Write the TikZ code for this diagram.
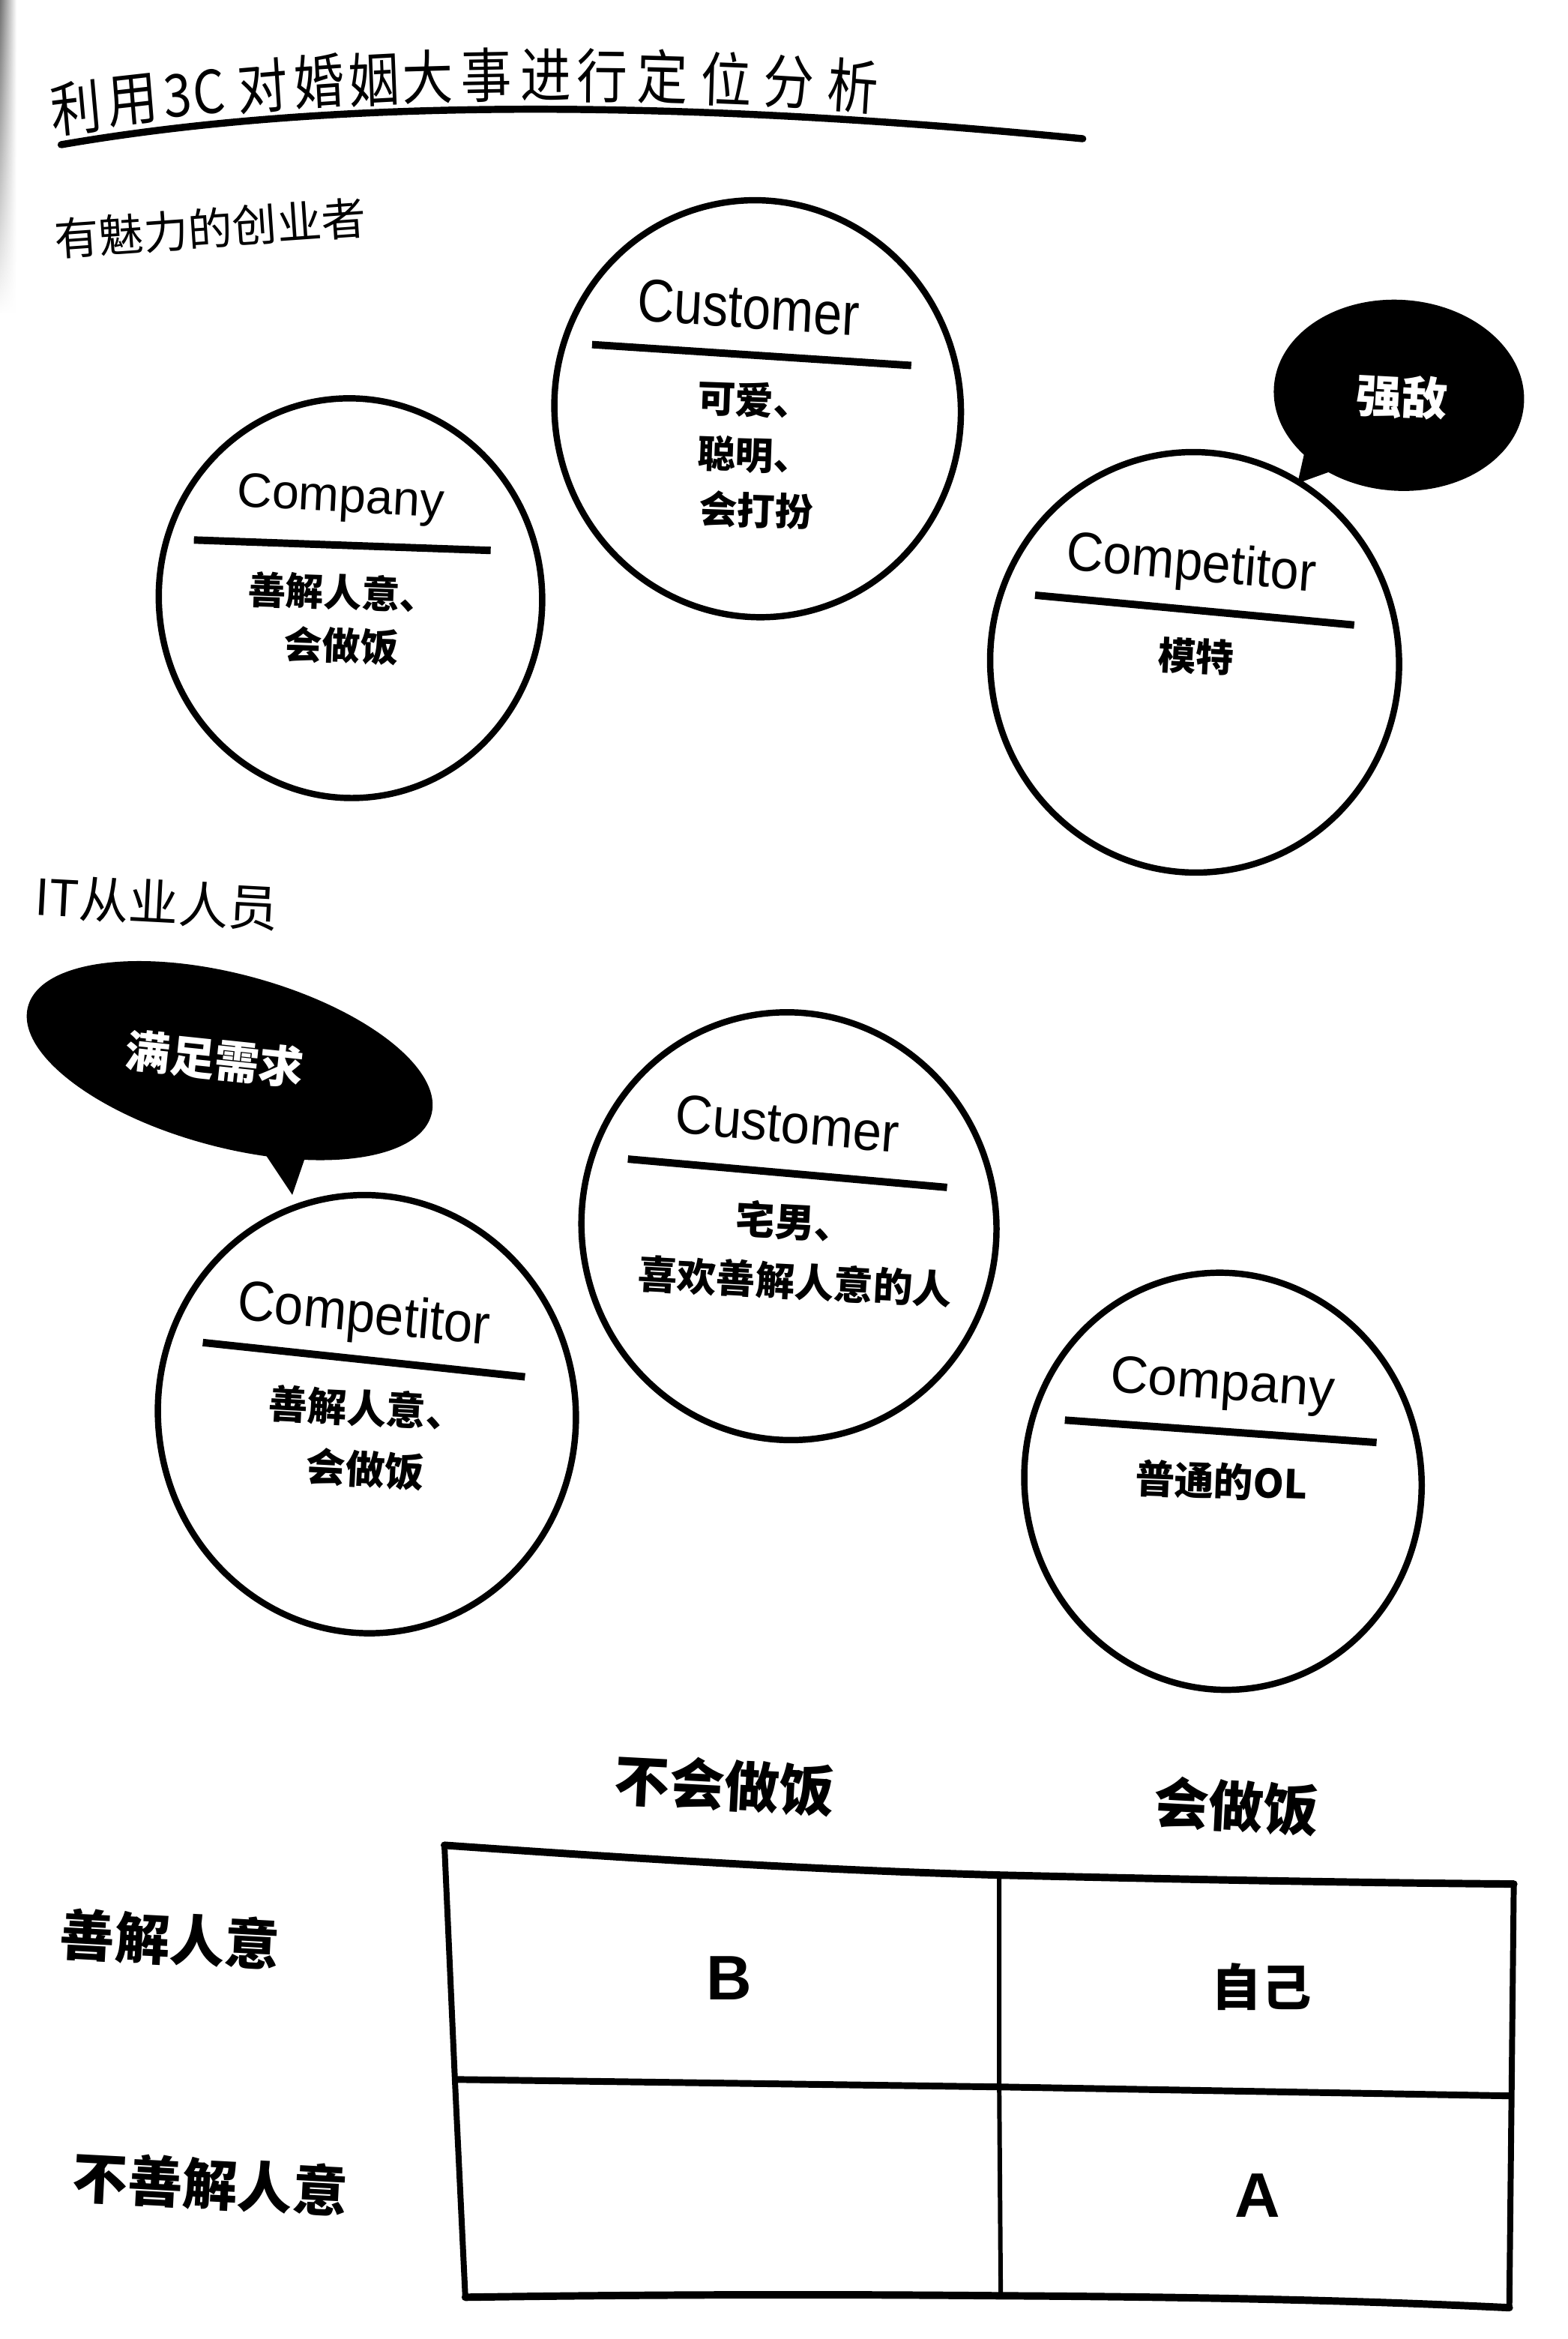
\documentclass[tikz,border=0pt]{standalone}
\usepackage{fontspec}
\setmainfont{Liberation Sans}
\newfontfamily\cjk{Noto Sans CJK SC}
\usetikzlibrary{shapes.geometric,fadings}
\tikzset{
  oval/.style={draw, ellipse, line width=0.85mm, inner sep=0pt},
  bubble/.style={fill=black, ellipse, inner sep=0pt},
  divider/.style={line width=1mm},
  titlechar/.style={font=\cjk\fontsize{22.5}{26}\selectfont, inner sep=0pt, xscale=0.86},
  sub/.style={font=\cjk\fontsize{17}{20}\selectfont, inner sep=0pt},
  eng/.style={font=\fontsize{21}{24}\selectfont, inner sep=0pt, anchor=base},
  body/.style={font=\cjk\bfseries\fontsize{14.5}{18}\selectfont, inner sep=0pt},
  bubtext/.style={text=white, font=\cjk\bfseries\fontsize{17.5}{20}\selectfont, inner sep=0pt},
  edge/.style={line width=1mm, line cap=round, line join=round},
  thinedge/.style={line width=0.8mm, line cap=round},
  inner/.style={line width=0.6mm},
  tlabel/.style={font=\cjk\bfseries\fontsize{21}{25}\selectfont, inner sep=0pt},
  cell/.style={font=\bfseries\fontsize{24}{28}\selectfont, inner sep=0pt},
  cellcjk/.style={font=\cjk\bfseries\fontsize{19}{22}\selectfont, inner sep=0pt},
}
\begin{document}
\begin{tikzpicture}[x=0.2mm, y=-0.2mm]
\useasboundingbox (0,0) rectangle (1051,1568);
\fill[white] (0,0) rectangle (1051,1568);
\shade[left color=black!55, right color=white, path fading=south] (0,0) rectangle (11,210);

% title, set along the arc of its underline
\foreach \ch/\x/\y/\r [count=\i] in {利/51/72.5/6, 用/89/67.5/5.5, 3/119/64/5, C/140/61.5/4.8,
  对/176/57.5/4.3, 婚/214/54.6/3.4, 姻/251/53/2.6, 大/287/51.4/1.4, 事/326/50.5/0.9,
  进/366/50.2/0, 行/404/50.6/-0.5, 定/444/51.6/-1.4, 位/487/53/-2, 分/529/55/-2.9, 析/572/57.4/-4.2}
  \node[titlechar, rotate=\r] (t\i) at (\x,\y) {\ch};
\draw[line width=0.95mm, line cap=round] (41,97) .. controls (220,66) and (450,66) .. (726,93);

% section 1
\node[sub, rotate=4] (s1) at (141,153) {有魅力的创业者};

% circle 1 : Company
\node[oval, minimum width=51.4mm, minimum height=53.6mm, rotate=5] (c1) at (235,401) {};
\node[eng, font=\fontsize{18.5}{22}\selectfont, rotate=-3] (c1t) at (228,343) {Company};
\draw[divider] (130,362) -- (329,369);
\node[body, rotate=-2] (c1a) at (230,397) {善解人意、};
\node[body, rotate=-2] (c1b) at (229,433) {会做饭};

% circle 2 : Customer
\node[oval, minimum width=54.4mm, minimum height=56mm, rotate=15] (c2) at (508,274) {};
\node[eng, font=\fontsize{23}{26}\selectfont, xscale=0.85, rotate=-3.5] (c2t) at (501,220) {Customer};
\draw[divider] (397,231) -- (611,245);
\node[body, rotate=-2] (c2a) at (506,268) {可爱、};
\node[body, rotate=-2] (c2b) at (506,305) {聪明、};
\node[body, rotate=-2] (c2c) at (507,342) {会打扮};

% circle 3 : Competitor
\node[oval, minimum width=54.8mm, minimum height=56.4mm, rotate=8] (c3) at (801,444) {};
\node[eng, xscale=0.93, rotate=-4.8] (c3t) at (798,389) {Competitor};
\draw[divider] (694,399) -- (908,419);
\node[body, rotate=-3] (c3a) at (802,440) {模特};

% bubble 1
\node[bubble, minimum width=33.6mm, minimum height=25.6mm, rotate=-4] (b1) at (938,265) {};
\fill (879,284) -- (870,324) -- (909,310) -- cycle;
\node[bubtext, rotate=-3] (b1t) at (940,266) {强敌};

% section 2
\node[sub, font=\cjk\fontsize{19}{22}\selectfont, rotate=-3] (s2) at (105,605) {IT从业人员};

% bubble 2
\node[bubble, minimum width=56mm, minimum height=23.2mm, rotate=-15] (b2) at (154,711) {};
\fill (170,762) -- (196,801) -- (208,766) -- cycle;
\node[bubtext, font=\cjk\bfseries\fontsize{17}{20}\selectfont, rotate=-6] (b2t) at (144,710) {满足需求};

% circle 4 : Competitor
\node[oval, minimum width=56mm, minimum height=58.8mm, rotate=8] (c4) at (246,948) {};
\node[eng, font=\fontsize{21.5}{24}\selectfont, xscale=0.92, rotate=-5.3] (c4t) at (243,893) {Competitor};
\draw[divider] (136,900) -- (352,923);
\node[body, font=\cjk\bfseries\fontsize{15}{18}\selectfont, rotate=-3] (c4a) at (246,944) {善解人意、};
\node[body, font=\cjk\bfseries\fontsize{15}{18}\selectfont, rotate=-3] (c4b) at (245,985) {会做饭};

% circle 5 : Customer
\node[oval, minimum width=55.6mm, minimum height=57.4mm, rotate=10] (c5) at (529,822) {};
\node[eng, xscale=0.94, rotate=-4.8] (c5t) at (527,766) {Customer};
\draw[divider] (421,777) -- (635,796);
\node[body, font=\cjk\bfseries\fontsize{15}{18}\selectfont, rotate=-3] (c5a) at (533,819) {宅男、};
\node[body, font=\cjk\bfseries\fontsize{15}{18}\selectfont, rotate=-3] (c5b) at (533,859) {喜欢善解人意的人};

% circle 6 : Company
\node[oval, minimum width=53.2mm, minimum height=56mm, rotate=10] (c6) at (820,993) {};
\node[eng, font=\fontsize{20}{24}\selectfont, rotate=-3.9] (c6t) at (819,938) {Company};
\draw[divider] (714,952) -- (923,967);
\node[body, font=\cjk\bfseries\fontsize{15}{18}\selectfont, rotate=-2] (c6a) at (819,993) {普通的OL};

% table labels
\node[tlabel, rotate=-3] (h1) at (486,1197) {不会做饭};
\node[tlabel, rotate=-3] (h2) at (829,1211) {会做饭};
\node[tlabel, rotate=-3] (r1) at (114,1300) {善解人意};
\node[tlabel, rotate=-3] (r2) at (141,1464) {不善解人意};

% table grid
\coordinate (tl) at (298,1237);
\coordinate (tm) at (670,1257);
\coordinate (tr) at (1015,1263);
\coordinate (ml) at (305,1394);
\coordinate (mm) at (670,1399);
\coordinate (mr) at (1012,1405);
\coordinate (bl) at (312,1540);
\coordinate (bm) at (671,1539);
\coordinate (br) at (1012,1547);
\draw[edge] (tl) .. controls (440,1247) and (560,1254) .. (tm) .. controls (800,1260) and (900,1262) .. (tr);
\draw[edge] (bl) .. controls (450,1538) and (560,1538) .. (bm) .. controls (850,1540) and (950,1544) .. (br);
\draw[line width=0.9mm] (ml) -- (mm) -- (mr);
\draw[thinedge] (tl) -- (ml) -- (bl);
\draw[thinedge] (tr) -- (br);
\draw[inner] (tm) -- (mm) -- (bm);

\node[cell] (cb) at (489,1326) {B};
\node[cellcjk] (cs) at (846,1332) {自己};
\node[cell] (ca) at (843,1472) {A};
\end{tikzpicture}
\end{document}
